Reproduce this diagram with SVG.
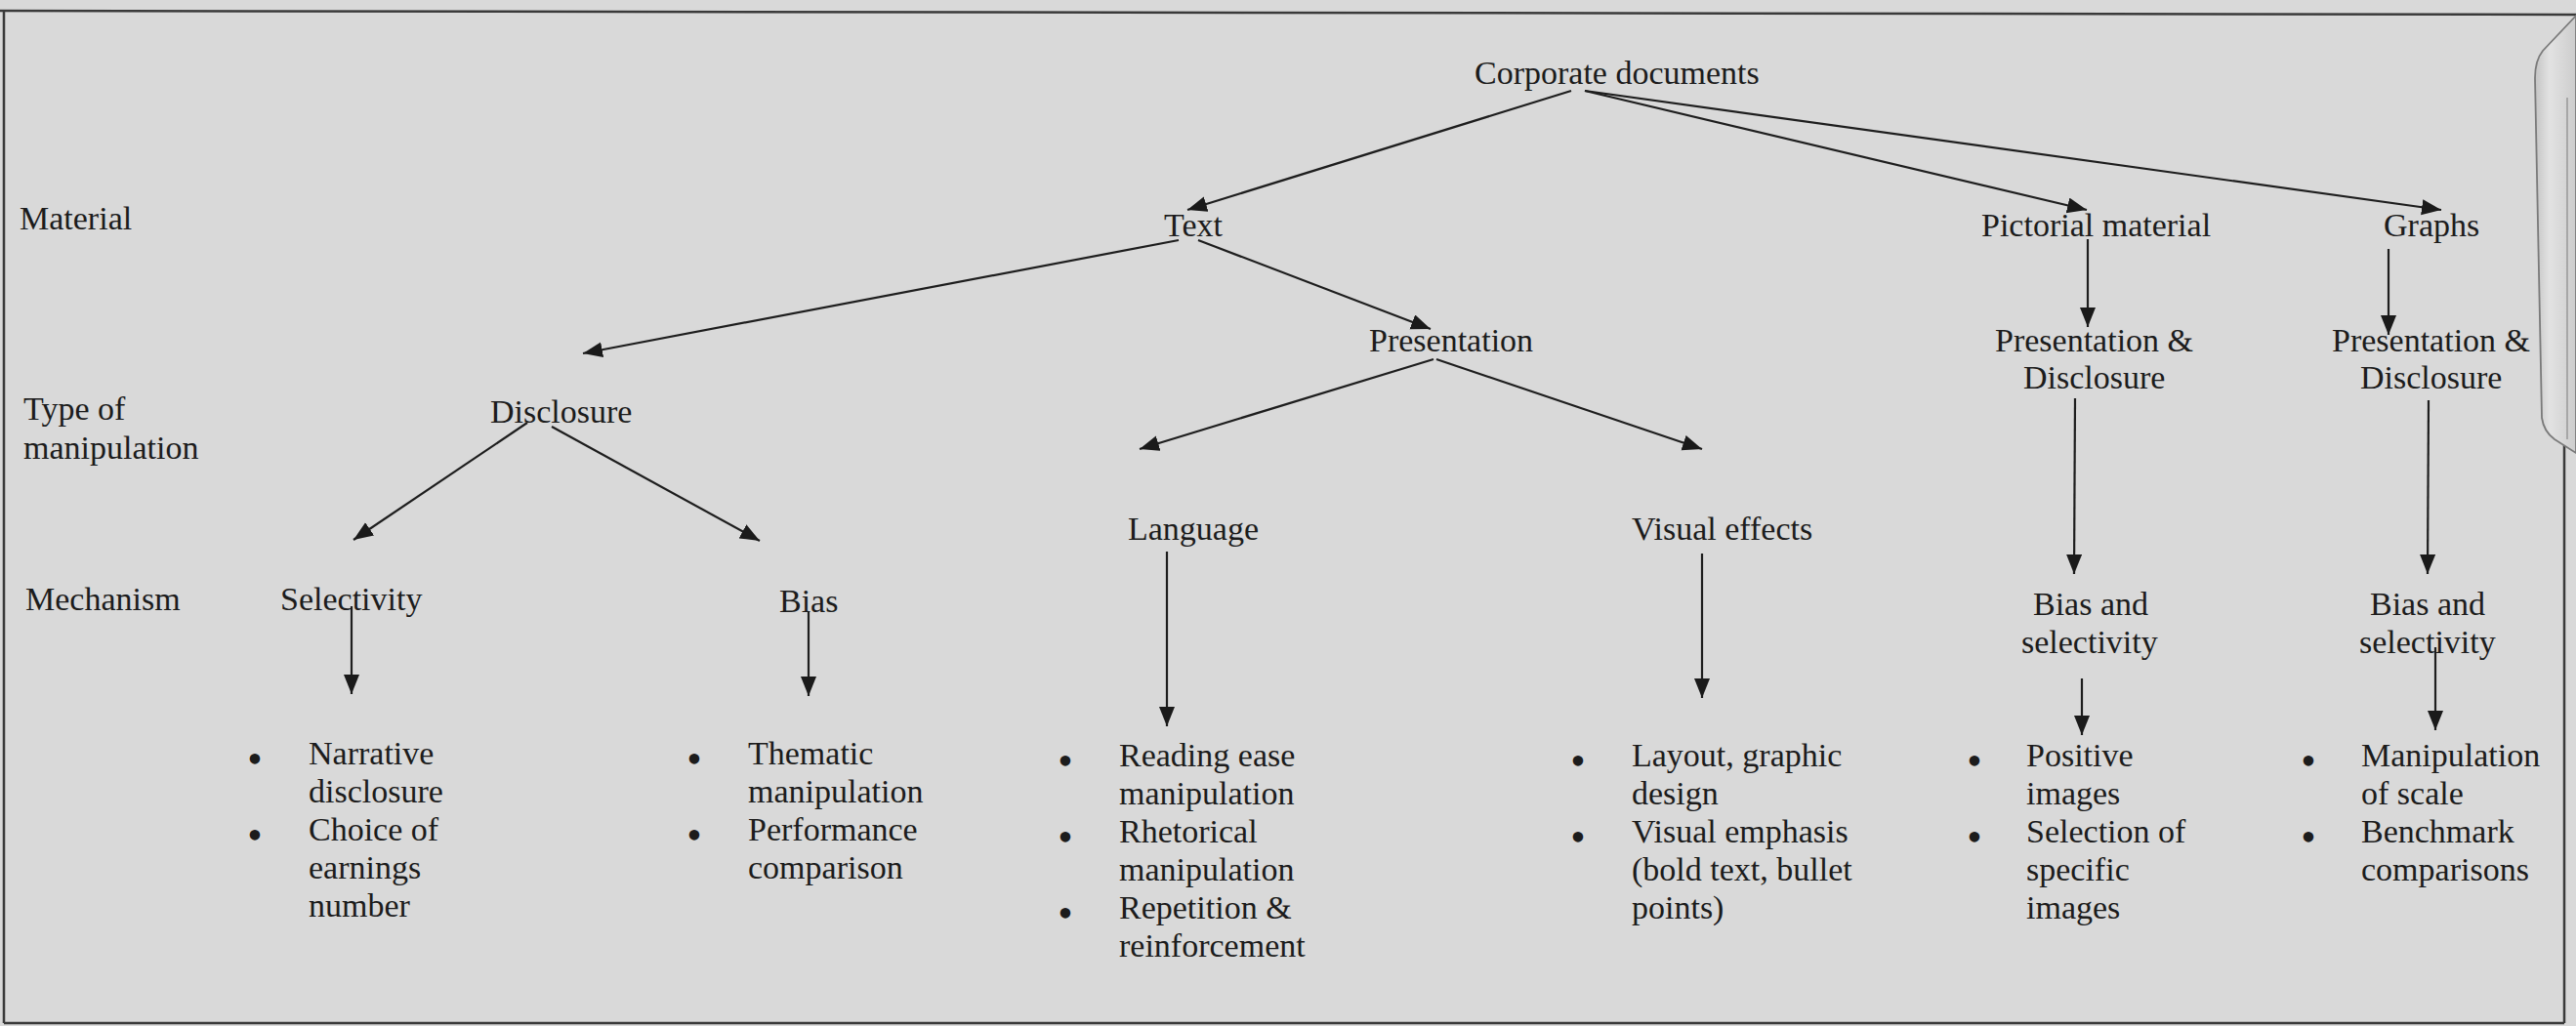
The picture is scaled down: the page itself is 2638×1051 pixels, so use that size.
<svg xmlns="http://www.w3.org/2000/svg" width="2638" height="1051" viewBox="0 0 2638 1051">
  <defs>
    <style>
      text { font-family: "Liberation Serif", "Times New Roman", serif; font-size: 34px; fill: #1c1c1c; }
      .bul { text-anchor: middle; font-size: 44px; }
      .conn line { stroke: #1e1e1e; stroke-width: 2.2; fill: none; marker-end: url(#tip); }
      .frame { stroke: #3a3a3a; stroke-width: 2.5; fill: none; }
    </style>
    <marker id="tip" markerUnits="userSpaceOnUse" markerWidth="22" markerHeight="18" refX="20" refY="8" orient="auto">
      <path d="M0,0 L20,8 L0,16 Z" fill="#1a1a1a"/>
    </marker>
    <linearGradient id="tabFill" x1="0" y1="0" x2="1" y2="0">
      <stop offset="0" stop-color="#c4c4c4"/>
      <stop offset="0.35" stop-color="#e2e2e2"/>
      <stop offset="1" stop-color="#cdcdcd"/>
    </linearGradient>
  </defs>

  <!-- page background -->
  <rect x="0" y="0" width="2638" height="1051" fill="#d9d9d9"/>

  <!-- outer frame -->
  <g id="frame">
    <line class="frame" x1="0" y1="11" x2="2638" y2="15"/>
    <line class="frame" x1="4" y1="11" x2="4" y2="1048"/>
    <line class="frame" x1="4" y1="1048" x2="2626" y2="1048"/>
    <line class="frame" x1="2626" y1="452" x2="2626" y2="1048"/>
    <!-- side tab -->
    <path d="M2638,16 L2604,52 Q2596,62 2596,80 L2603,428 Q2605,442 2616,450 L2638,464 Z" fill="url(#tabFill)" stroke="#7a7a7a" stroke-width="1.8"/>
    <line x1="2629" y1="100" x2="2629" y2="450" stroke="#8e8e8e" stroke-width="1.3"/>
  </g>

  <!-- row headings -->
  <g id="row-labels">
    <text x="20" y="235">Material</text>
    <text x="24" y="430">Type of</text>
    <text x="24" y="470">manipulation</text>
    <text x="26" y="625">Mechanism</text>
  </g>

  <!-- connectors -->
  <g id="connectors" class="conn">
    <line x1="1609" y1="93" x2="1216" y2="215"/>
    <line x1="1623" y1="93" x2="2137" y2="215"/>
    <line x1="1623" y1="93" x2="2500" y2="215"/>
    <line x1="1207" y1="246" x2="597" y2="362"/>
    <line x1="1227" y1="246" x2="1465" y2="337"/>
    <line x1="2138" y1="245" x2="2138" y2="335"/>
    <line x1="2446" y1="255" x2="2446" y2="343"/>
    <line x1="1468" y1="368" x2="1167" y2="460"/>
    <line x1="1471" y1="368" x2="1743" y2="460"/>
    <line x1="540" y1="433" x2="362" y2="553"/>
    <line x1="565" y1="437" x2="778" y2="554"/>
    <line x1="360" y1="621" x2="360" y2="711"/>
    <line x1="828" y1="626" x2="828" y2="713"/>
    <line x1="1195" y1="565" x2="1195" y2="744"/>
    <line x1="1743" y1="567" x2="1743" y2="715"/>
    <line x1="2125" y1="408" x2="2124" y2="588"/>
    <line x1="2487" y1="410" x2="2486" y2="588"/>
    <line x1="2132" y1="695" x2="2132" y2="753"/>
    <line x1="2494" y1="663" x2="2494" y2="748"/>
  </g>

  <!-- material level -->
  <g id="corporate-documents"><text x="1510" y="86">Corporate documents</text></g>
  <g id="text-node"><text x="1192" y="242">Text</text></g>
  <g id="pictorial-material"><text x="2029" y="242">Pictorial material</text></g>
  <g id="graphs"><text x="2441" y="242">Graphs</text></g>

  <!-- type of manipulation level -->
  <g id="disclosure"><text x="502" y="433">Disclosure</text></g>
  <g id="presentation"><text x="1402" y="360">Presentation</text></g>
  <g id="pictorial-pd">
    <text x="2043" y="360">Presentation &amp;</text>
    <text x="2072" y="398">Disclosure</text>
  </g>
  <g id="graphs-pd">
    <text x="2388" y="360">Presentation &amp;</text>
    <text x="2417" y="398">Disclosure</text>
  </g>
  <g id="language"><text x="1155" y="553">Language</text></g>
  <g id="visual-effects"><text x="1671" y="553">Visual effects</text></g>

  <!-- mechanism level -->
  <g id="selectivity"><text x="287" y="625">Selectivity</text></g>
  <g id="bias"><text x="798" y="627">Bias</text></g>
  <g id="pictorial-bias-selectivity">
    <text x="2082" y="630">Bias and</text>
    <text x="2070" y="669">selectivity</text>
  </g>
  <g id="graphs-bias-selectivity">
    <text x="2427" y="630">Bias and</text>
    <text x="2416" y="669">selectivity</text>
  </g>

  <!-- examples -->
  <g id="selectivity-examples">
    <text class="bul" x="261" y="792">•</text>
    <text x="316" y="783">Narrative</text>
    <text x="316" y="822">disclosure</text>
    <text class="bul" x="261" y="870">•</text>
    <text x="316" y="861">Choice of</text>
    <text x="316" y="900">earnings</text>
    <text x="316" y="939">number</text>
  </g>
  <g id="bias-examples">
    <text class="bul" x="711" y="792">•</text>
    <text x="766" y="783">Thematic</text>
    <text x="766" y="822">manipulation</text>
    <text class="bul" x="711" y="870">•</text>
    <text x="766" y="861">Performance</text>
    <text x="766" y="900">comparison</text>
  </g>
  <g id="language-examples">
    <text class="bul" x="1091" y="794">•</text>
    <text x="1146" y="785">Reading ease</text>
    <text x="1146" y="824">manipulation</text>
    <text class="bul" x="1091" y="872">•</text>
    <text x="1146" y="863">Rhetorical</text>
    <text x="1146" y="902">manipulation</text>
    <text class="bul" x="1091" y="950">•</text>
    <text x="1146" y="941">Repetition &amp;</text>
    <text x="1146" y="980">reinforcement</text>
  </g>
  <g id="visual-examples">
    <text class="bul" x="1616" y="794">•</text>
    <text x="1671" y="785">Layout, graphic</text>
    <text x="1671" y="824">design</text>
    <text class="bul" x="1616" y="872">•</text>
    <text x="1671" y="863">Visual emphasis</text>
    <text x="1671" y="902">(bold text, bullet</text>
    <text x="1671" y="941">points)</text>
  </g>
  <g id="pictorial-examples">
    <text class="bul" x="2022" y="794">•</text>
    <text x="2075" y="785">Positive</text>
    <text x="2075" y="824">images</text>
    <text class="bul" x="2022" y="872">•</text>
    <text x="2075" y="863">Selection of</text>
    <text x="2075" y="902">specific</text>
    <text x="2075" y="941">images</text>
  </g>
  <g id="graphs-examples">
    <text class="bul" x="2364" y="794">•</text>
    <text x="2418" y="785">Manipulation</text>
    <text x="2418" y="824">of scale</text>
    <text class="bul" x="2364" y="872">•</text>
    <text x="2418" y="863">Benchmark</text>
    <text x="2418" y="902">comparisons</text>
  </g>
</svg>
